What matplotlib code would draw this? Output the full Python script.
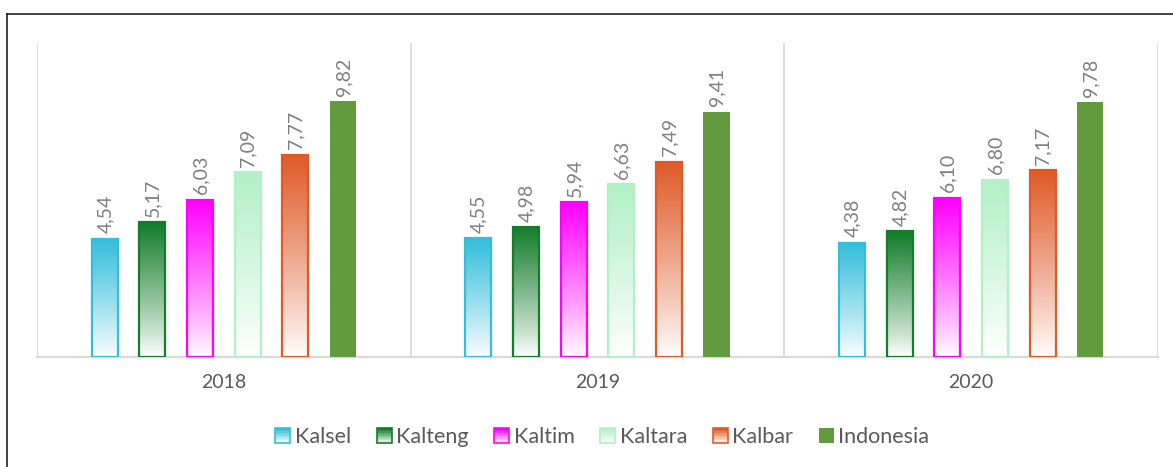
import numpy as np
import matplotlib
matplotlib.use("Agg")
import matplotlib.pyplot as plt
from matplotlib.patches import Rectangle
from matplotlib.legend_handler import HandlerBase
from matplotlib.colors import to_rgb
from matplotlib.lines import Line2D

plt.rcParams['font.family'] = ['Lato', 'DejaVu Sans']

years = ["2018", "2019", "2020"]
series = ["Kalsel", "Kalteng", "Kaltim", "Kaltara", "Kalbar", "Indonesia"]
kalsel = [4.54, 4.55, 4.38]
kalteng = [5.17, 4.98, 4.82]
kaltim = [6.03, 5.94, 6.10]
kaltara = [7.09, 6.63, 6.80]
kalbar = [7.77, 7.49, 7.17]
indonesia = [9.82, 9.41, 9.78]
values = [kalsel, kalteng, kaltim, kaltara, kalbar, indonesia]
colors = ["#33BEDB", "#137D2B", "#FF00FF", "#B2F0C6", "#E05A28", "#629A3E"]
gradient = [True, True, True, True, True, False]


def grad_img(color, n=128):
    c = np.array(to_rgb(color))
    t = np.linspace(0, 1, n)[:, None]  # 0 bottom -> 1 top
    t = t ** 0.9
    img = (1 - t) * np.array([1, 1, 1]) + t * c
    return img[:, None, :]


class GradHandler(HandlerBase):
    def __init__(self, color, grad):
        super().__init__()
        self.color = color
        self.grad = grad

    def create_artists(self, legend, orig_handle, xdescent, ydescent,
                       width, height, fontsize, trans):
        s = height * 1.0
        x0 = -xdescent + width - s
        y0 = -ydescent + (height - s) / 2
        arts = []
        if self.grad:
            img = grad_img(self.color, 10)
            for i in range(10):
                r = Rectangle((x0, y0 + s * i / 10), s, s / 10 + 0.05,
                              facecolor=img[i, 0], edgecolor='none', transform=trans)
                arts.append(r)
            arts.append(Rectangle((x0, y0), s, s, facecolor='none',
                                  edgecolor=self.color, lw=1.2, transform=trans))
        else:
            arts.append(Rectangle((x0, y0), s, s, facecolor=self.color,
                                  edgecolor='none', transform=trans))
        return arts


fig = plt.figure(figsize=(11.73, 4.67), dpi=100)
ax = fig.add_axes([0.0315, 0.2355, 0.9557, 0.6725])

x = np.arange(len(years))
pitch = 0.1275
width = 0.07
handles = []
hmap = {}
for i, (name, vals, col, g) in enumerate(zip(series, values, colors, gradient)):
    pos = x + (i - 2.5) * pitch
    if g:
        bars = ax.bar(pos, vals, width, facecolor='none', edgecolor=col,
                      linewidth=1.6, zorder=3)
        for b in bars:
            ax.imshow(grad_img(col), extent=(b.get_x(), b.get_x() + b.get_width(),
                                             0, b.get_height()),
                      origin='lower', aspect='auto', zorder=2)
    else:
        bars = ax.bar(pos, vals, width, color=col, zorder=3)
    for b, v in zip(bars, vals):
        ax.annotate(f"{v:.2f}".replace(".", ","),
                    (b.get_x() + b.get_width() / 2, b.get_height()),
                    xytext=(0.5, 4), textcoords='offset points', rotation=90,
                    ha='center', va='bottom', fontsize=14, color='#7F7F7F')
    h = Rectangle((0, 0), 1, 1)
    handles.append(h)
    hmap[h] = GradHandler(col, g)

ax.set_xlim(-0.5, 2.5)
ax.set_ylim(0, 12.05)
ax.set_aspect('auto')
for xb in [-0.5, 0.5, 1.5, 2.5]:
    ax.axvline(xb, color='#D9D9D9', lw=1.3, zorder=1)
for s in ['top', 'right', 'left']:
    ax.spines[s].set_visible(False)
ax.spines['bottom'].set_color('#D9D9D9')
ax.spines['bottom'].set_linewidth(1.5)
ax.set_yticks([])
ax.set_xticks(x)
ax.set_xticklabels(years, fontsize=14, color='#595959')
ax.tick_params(axis='x', length=0, pad=12)

leg = fig.legend(handles, series, handler_map=hmap, loc='center',
                 bbox_to_anchor=(0.513, 0.064), ncol=6, frameon=False,
                 fontsize=15.5, handlelength=0.75, handletextpad=0.2,
                 columnspacing=1.15, labelcolor='#595959')

fig.add_artist(Line2D([7 / 1173, 1], [1 - 14 / 467, 1 - 14 / 467], color='#222222', lw=1.2))
fig.add_artist(Line2D([7 / 1173, 7 / 1173], [0, 1 - 14 / 467], color='#222222', lw=1.2))

fig.savefig("out.png", dpi=100)
